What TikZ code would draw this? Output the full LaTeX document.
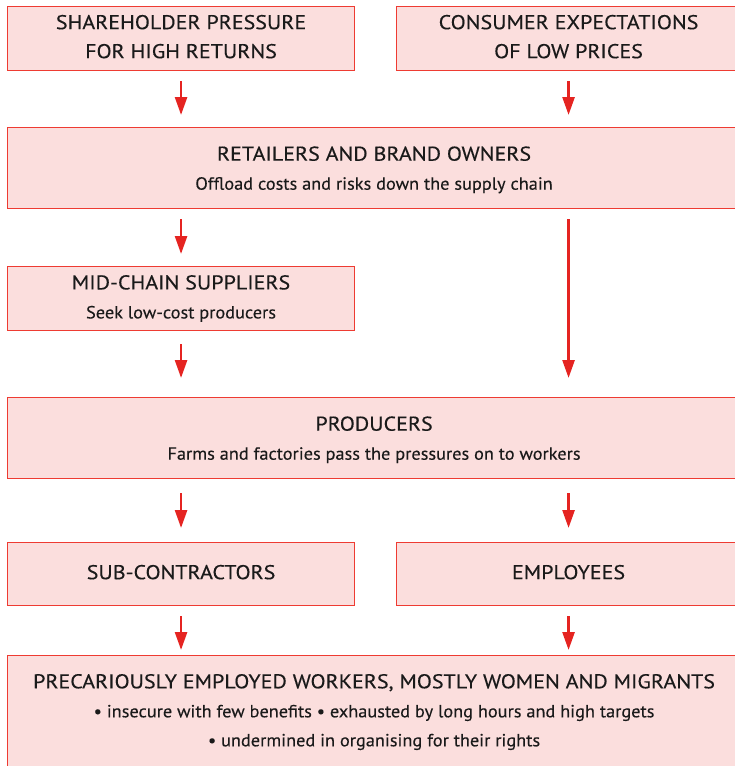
\documentclass[tikz,border=0pt]{standalone}
\usepackage{fontspec}
\setmainfont{PT Sans}
\newfontfamily\headfamily[FakeStretch=1.1, FakeBold=0.3]{PT Sans}
\newfontfamily\subfamily[FakeStretch=1.04, FakeBold=0.2]{PT Sans}
\usetikzlibrary{arrows.meta, positioning, calc}

\definecolor{boxfill}{HTML}{FBDEDD}
\definecolor{boxline}{HTML}{EE3B32}
\definecolor{arrowred}{HTML}{E52421}
\definecolor{textblack}{HTML}{1A1A1A}

\newcommand{\headfont}{\headfamily\fontsize{20}{29}\selectfont}
\newcommand{\subfont}{\subfamily\fontsize{17.6}{29}\selectfont}

\begin{document}
\begin{tikzpicture}[x=1pt, y=-1pt,
  box/.style={draw=boxline, fill=boxfill, line width=1.1pt, rectangle, inner sep=0pt,
    align=center, anchor=north west, font=\headfont, text=textblack},
  half/.style={box, minimum width=347pt, minimum height=64pt, text depth=4pt},
  full/.style={box, minimum width=733pt, minimum height=81pt, text depth=0pt},
  arr/.style={draw=arrowred, line width=2.6pt, -{Triangle[length=18pt,width=12pt]}}]
\useasboundingbox (0,0) rectangle (735,766);

% Top row
\node[half] (share) at (7,6) {SHAREHOLDER PRESSURE\\FOR HIGH RETURNS};
\node[half, minimum width=344pt] (cons) at (396,6) {CONSUMER EXPECTATIONS\\OF LOW PRICES};

% Retailers
\node[full] (retail) at (7,127) {RETAILERS AND BRAND OWNERS\\{\subfont Offload costs and risks down the supply chain}};

% Mid-chain
\node[half, text depth=] (mid) at (7,266) {MID-CHAIN SUPPLIERS\\{\subfont Seek low-cost producers}};

% Producers
\node[full] (prod) at (7,397) {PRODUCERS\\{\subfont Farms and factories pass the pressures on to workers}};

% Sub-contractors and employees
\node[half, minimum height=63pt] (sub) at (7,542) {SUB-CONTRACTORS};
\node[half, minimum width=344pt, minimum height=63pt] (empl) at (396,542) {EMPLOYEES};

% Workers
\node[full, minimum height=113pt, text depth=] (work) at (7,655) {PRECARIOUSLY EMPLOYED WORKERS, MOSTLY WOMEN AND MIGRANTS\\
  {\subfont \textbullet\ insecure with few benefits \textbullet\ exhausted by long hours and high targets}\\
  {\subfont \textbullet\ undermined in organising for their rights}};

% Arrows
\draw[arr, shorten <=10pt, shorten >=12pt] (share) -- (share |- retail.north);
\draw[arr, shorten <=10pt, shorten >=12pt] (cons) -- (cons |- retail.north);
\draw[arr, shorten <=10pt, shorten >=12pt] (mid |- retail.south) -- (mid);
\draw[arr, shorten <=10pt, shorten >=19pt] (cons |- retail.south) -- (cons |- prod.north);
\draw[arr, shorten <=13pt, shorten >=19pt] (mid) -- (mid |- prod.north);
\draw[arr, shorten <=14pt, shorten >=14pt] (sub |- prod.south) -- (sub);
\draw[arr, shorten <=14pt, shorten >=14pt] (empl |- prod.south) -- (empl);
\draw[arr, shorten <=10pt, shorten >=5pt] (sub) -- (sub |- work.north);
\draw[arr, shorten <=10pt, shorten >=5pt] (empl) -- (empl |- work.north);
\end{tikzpicture}
\end{document}
